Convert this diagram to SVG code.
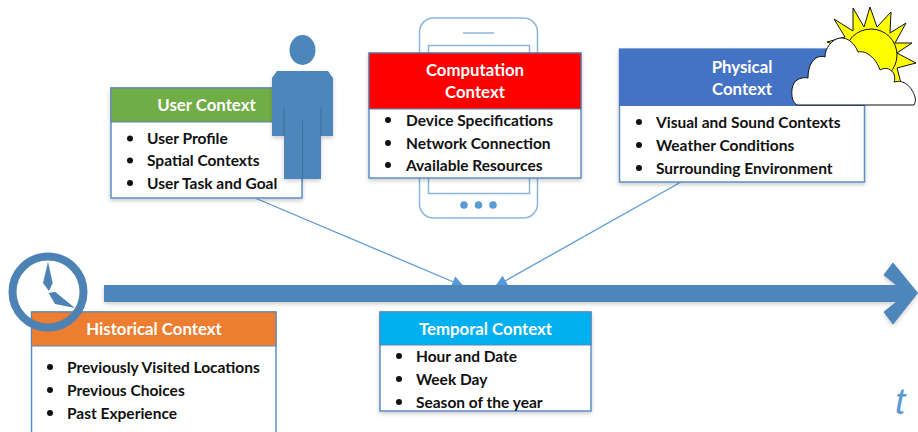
<svg xmlns="http://www.w3.org/2000/svg" width="918" height="432" viewBox="0 0 918 432">
<defs>
<marker id="ah" markerUnits="userSpaceOnUse" markerWidth="14" markerHeight="14" refX="11" refY="6" orient="auto"><path d="M0,0L12,6L0,12Z" fill="#5b9bd5"/></marker>
<filter id="sh" x="-5%" y="-5%" width="110%" height="115%"><feDropShadow dx="0" dy="2" stdDeviation="2" flood-color="#000" flood-opacity="0.2"/></filter>
</defs>
<style>
text{font-family:Lato,"Open Sans","Liberation Sans",sans-serif;font-weight:700}
.h{fill:#fff;font-size:16.8px;text-anchor:middle}
.b{fill:#111;font-size:15.5px}
.body{fill:#fff;stroke:#5b8fc4;stroke-width:1.5}
.head{stroke:#5a86b5;stroke-width:1}
.blue{fill:#4d86ba;stroke:#4d86ba}
.ph{fill:none;stroke:#8db5de;stroke-width:1.5}
.dot{fill:#111}
</style>

<g id="phone">
<rect class="ph" x="419.500" y="18" width="118" height="200" rx="14"/>
<line class="ph" x1="463" y1="33" x2="494" y2="33"/>
<rect class="ph" x="428.500" y="45.500" width="101" height="148"/>
<circle cx="464" cy="205" r="3.800" fill="#5b9bd5"/><circle cx="478.500" cy="205" r="3.800" fill="#5b9bd5"/><circle cx="493" cy="205" r="3.800" fill="#5b9bd5"/>
</g>

<g id="connectors">
<line x1="255" y1="198" x2="463" y2="286" stroke="#5b9bd5" stroke-width="1.300" marker-end="url(#ah)"/>
<line x1="681" y1="182" x2="496" y2="286" stroke="#5b9bd5" stroke-width="1.300" marker-end="url(#ah)"/>
</g>

<g id="timeline">
<path class="blue" filter="url(#sh)" d="M104.500,285.500H897L884,275L893,263L917.500,293L893,324L884,312L897,301.500H104.500Z"/>
</g>

<g id="user-context">
<rect class="body" x="111" y="88" width="191" height="110" filter="url(#sh)"/>
<rect class="head" x="111" y="88" width="191" height="34" fill="#70ad47"/>
<text class="h" x="206.500" y="111">User Context</text>
<circle class="dot" cx="130" cy="138.500" r="3"/><text class="b" x="147" y="144">User Profile</text>
<circle class="dot" cx="130" cy="160.500" r="3"/><text class="b" x="147" y="166">Spatial Contexts</text>
<circle class="dot" cx="130" cy="183" r="3"/><text class="b" x="147" y="188.500">User Task and Goal</text>
</g>

<g id="person">
<ellipse cx="302.500" cy="50" rx="13" ry="15" fill="#4d86ba"/>
<path d="M277,71H328L333,78V136H321V179H284V136H272V78Z" fill="#4d86ba" filter="url(#sh)"/>
<path d="M284,107V136M321,107V136M302.500,121V179" stroke="#3d6f9e" stroke-width="1" fill="none"/>
</g>

<g id="computation-context">
<rect class="body" x="369" y="53" width="212" height="125" filter="url(#sh)"/>
<rect class="head" x="369" y="53" width="212" height="56" fill="#ff0000"/>
<text class="h" x="475" y="76">Computation</text>
<text class="h" x="475" y="98">Context</text>
<circle class="dot" cx="388" cy="120" r="3"/><text class="b" x="406" y="126">Device Specifications</text>
<circle class="dot" cx="388" cy="143" r="3"/><text class="b" x="406" y="149">Network Connection</text>
<circle class="dot" cx="388" cy="165" r="3"/><text class="b" x="406" y="171">Available Resources</text>
</g>

<g id="physical-context">
<rect class="body" x="619.500" y="49" width="245" height="133" filter="url(#sh)"/>
<rect x="619" y="49" width="245" height="57" fill="#4472c4"/>
<text class="h" x="742" y="73">Physical</text>
<text class="h" x="742" y="95">Context</text>
<circle class="dot" cx="639" cy="122" r="3"/><text class="b" x="656" y="128">Visual and Sound Contexts</text>
<circle class="dot" cx="639" cy="145" r="3"/><text class="b" x="656" y="151">Weather Conditions</text>
<circle class="dot" cx="639" cy="168" r="3"/><text class="b" x="656" y="174">Surrounding Environment</text>
</g>

<g id="sun-cloud">
<path fill="#ffff00" stroke="#111" stroke-width="1" d="M827,42L845,37L834,19L853,31L853,8L864,27L870,7L877,27L891,12L890,33L906,23L895,43L912,43L897,53L916,63L897,68L901,83L893,82L880,70L850,50Z"/>
<circle cx="871" cy="55" r="26" fill="#ffff00" stroke="#111" stroke-width="1"/>
<path fill="#fff" stroke="#111" stroke-width="1" d="M797,105C790,102 790,84 797,80C800,78 805,77 808,78C808,70 810,62 816,58C819,56 823,56 825,57C825,48 832,39 840,38C848,37 855,44 858,52C866,50 876,58 880,70C886,66 892,70 894,74C895,77 895,80 894,82C904,79 912,87 915,97C916,100 915,103 914,105Z"/>
</g>

<g id="temporal-context">
<rect class="body" x="380" y="312" width="211" height="99" filter="url(#sh)"/>
<rect class="head" x="380" y="312" width="211" height="33" fill="#00b0f0"/>
<text class="h" x="485.500" y="334.500">Temporal Context</text>
<circle class="dot" cx="399" cy="356" r="3"/><text class="b" x="416" y="362">Hour and Date</text>
<circle class="dot" cx="399" cy="379" r="3"/><text class="b" x="416" y="385">Week Day</text>
<circle class="dot" cx="399" cy="402" r="3"/><text class="b" x="416" y="408">Season of the year</text>
</g>

<g id="historical-context">
<rect class="body" x="31.500" y="312" width="244.500" height="130"/>
<rect class="head" x="31.500" y="312" width="244.500" height="34" fill="#ed7d31"/>
<text class="h" x="154" y="335">Historical Context</text>
<circle class="dot" cx="50" cy="367" r="3"/><text class="b" x="67" y="373">Previously Visited Locations</text>
<circle class="dot" cx="50" cy="390" r="3"/><text class="b" x="67" y="396">Previous Choices</text>
<circle class="dot" cx="50" cy="413" r="3"/><text class="b" x="67" y="419">Past Experience</text>
</g>

<g id="clock">
<circle cx="48" cy="292" r="35.500" fill="none" stroke="#4d82b4" stroke-width="8"/>
<path d="M48,262L52.700,283L49,291L43,283Z" fill="#4d82b4"/>
<path d="M55,291.700L75,308L55,304L48.700,293Z" fill="#4d82b4"/>
</g>

<text id="t-label" x="895" y="414" style="font-family:'Liberation Sans',sans-serif;font-weight:400;font-style:italic;font-size:37px;fill:#5b9bd5">t</text>
</svg>
